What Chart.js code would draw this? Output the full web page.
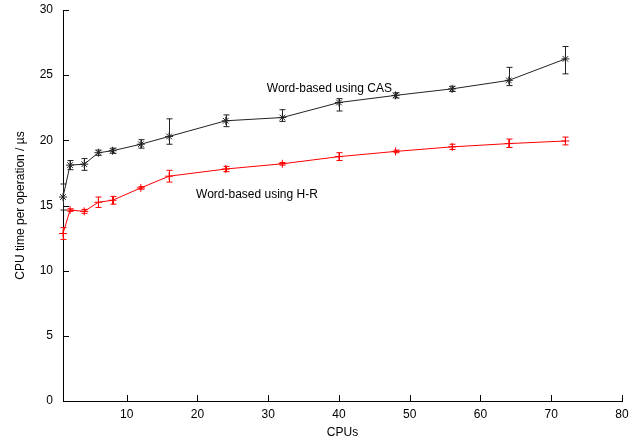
<!DOCTYPE html>
<html lang="en">
  <head>
    <meta charset="UTF-8" />
    <title>CPU time per operation</title>
    <style>
      html, body { margin: 0; padding: 0; background: #ffffff; }
      .chart-container { position: relative; width: 644px; height: 440px; }
    </style>
  </head>
  <body>
    <div class="chart-container">
      <canvas id="mainChart"></canvas>
    </div>
    <script src="https://cdn.jsdelivr.net/npm/chart.js"></script>
    <script>
      // data
      var cpus = [1, 2, 4, 6, 8, 12, 16, 24, 32, 40, 48, 56, 64, 72];
      var casTime = [15.65, 18.1, 18.17, 19.05, 19.2, 19.7, 20.3, 21.5, 21.75, 22.9, 23.45, 23.95, 24.6, 26.25];
      var casLow  = [14.65, 17.75, 17.7, 18.85, 19.0, 19.4, 19.7, 21.05, 21.45, 22.25, 23.25, 23.75, 24.2, 25.1];
      var casHigh = [16.65, 18.45, 18.6, 19.25, 19.4, 20.05, 21.65, 21.95, 22.35, 23.2, 23.65, 24.15, 25.6, 27.2];
      var hrTime = [12.85, 14.65, 14.55, 15.25, 15.4, 16.35, 17.25, 17.8, 18.2, 18.75, 19.15, 19.5, 19.75, 19.95];
      var hrLow  = [12.4, 14.55, 14.4, 14.85, 15.1, 16.25, 16.8, 17.6, 18.1, 18.45, 19.05, 19.3, 19.45, 19.65];
      var hrHigh = [13.3, 14.75, 14.7, 15.65, 15.7, 16.45, 17.7, 18.0, 18.3, 19.05, 19.25, 19.7, 20.1, 20.25];
      var xTicks = [10, 20, 30, 40, 50, 60, 70, 80];
      var yTicks = [0, 5, 10, 15, 20, 25, 30];

      var FONT = "'Liberation Sans', Arial, sans-serif";

      function pts(ys) {
        return cpus.map(function (x, i) { return { x: x, y: ys[i] }; });
      }

      // error bars, inward ticks and the in-plot labels
      var extras = {
        id: "extras",
        afterDatasetsDraw: function (chart) {
          var ctx = chart.ctx;
          var xs = chart.scales.x, ys = chart.scales.y;
          var area = chart.chartArea;
          var bars = [
            { lo: casLow, hi: casHigh, color: "#222222" },
            { lo: hrLow, hi: hrHigh, color: "#ff0000" },
          ];
          ctx.save();
          ctx.lineWidth = 1;
          bars.forEach(function (b) {
            ctx.strokeStyle = b.color;
            cpus.forEach(function (c, i) {
              var px = Math.round(xs.getPixelForValue(c)) + 0.5;
              var y1 = ys.getPixelForValue(b.lo[i]);
              var y2 = ys.getPixelForValue(b.hi[i]);
              ctx.beginPath();
              ctx.moveTo(px, y1); ctx.lineTo(px, y2);
              ctx.moveTo(px - 3, y1); ctx.lineTo(px + 3, y1);
              ctx.moveTo(px - 3, y2); ctx.lineTo(px + 3, y2);
              ctx.stroke();
            });
          });

          ctx.strokeStyle = "#000";
          ctx.beginPath();
          yTicks.forEach(function (v) {
            var py = Math.round(ys.getPixelForValue(v)) + 0.5;
            ctx.moveTo(area.left, py); ctx.lineTo(area.left + 6, py);
          });
          xTicks.forEach(function (v) {
            var px = Math.round(xs.getPixelForValue(v)) + 0.5;
            ctx.moveTo(px, area.bottom); ctx.lineTo(px, area.bottom - 6);
          });
          ctx.stroke();

          ctx.fillStyle = "#000";
          ctx.font = "12px " + FONT;
          ctx.textBaseline = "middle";
          ctx.textAlign = "left";
          ctx.fillText("Word-based using CAS", xs.getPixelForValue(29.8), ys.getPixelForValue(23.95));
          ctx.fillText("Word-based using H-R", xs.getPixelForValue(19.8), ys.getPixelForValue(15.85));
          ctx.restore();
        },
      };

      var ctxMain = document.getElementById("mainChart").getContext("2d");
      var mainChart = new Chart(ctxMain, {
        type: "line",
        data: {
          datasets: [
            {
              label: "Word-based using CAS",
              data: pts(casTime),
              borderColor: "#222222",
              backgroundColor: "#222222",
              borderWidth: 1,
              pointStyle: "star",
              pointRadius: 4,
              pointBorderWidth: 1,
              clip: false,
            },
            {
              label: "Word-based using H-R",
              data: pts(hrTime),
              borderColor: "#ff0000",
              backgroundColor: "#ff0000",
              borderWidth: 1,
              pointStyle: "cross",
              pointRadius: 4,
              pointBorderWidth: 1,
              clip: false,
            },
          ],
        },
        options: {
          responsive: true,
          maintainAspectRatio: false,
          animation: false,
          layout: { padding: { top: 10, right: 22, left: 13, bottom: 0 } },
          plugins: {
            legend: { display: false },
            tooltip: { enabled: false },
          },
          scales: {
            x: {
              type: "linear",
              min: 1,
              max: 80,
              grid: { display: false, drawTicks: false },
              border: { display: true, color: "#000", width: 1 },
              afterBuildTicks: function (scale) {
                scale.ticks = xTicks.map(function (v) { return { value: v }; });
              },
              afterFit: function (scale) {
                scale.height = 39;
                scale.paddingLeft = 0;
                scale.paddingRight = 0;
              },
              ticks: { color: "#000", font: { family: FONT, size: 12 }, padding: 6, maxRotation: 0 },
              title: { display: true, text: "CPUs", color: "#000", font: { family: FONT, size: 12 }, padding: { top: 3, bottom: 0 } },
            },
            y: {
              min: 0,
              max: 30,
              grid: { display: false, drawTicks: false },
              border: { display: true, color: "#000", width: 1 },
              afterBuildTicks: function (scale) {
                scale.ticks = yTicks.map(function (v) { return { value: v }; });
              },
              afterFit: function (scale) {
                scale.width = 50;
                scale.paddingTop = 0;
                scale.paddingBottom = 0;
              },
              ticks: { color: "#000", font: { family: FONT, size: 12 }, padding: 10 },
              title: { display: true, text: "CPU time per operation / µs", color: "#000", font: { family: FONT, size: 12 }, padding: { top: 0, bottom: 6 } },
            },
          },
        },
        plugins: [extras],
      });
    </script>
  </body>
</html>
